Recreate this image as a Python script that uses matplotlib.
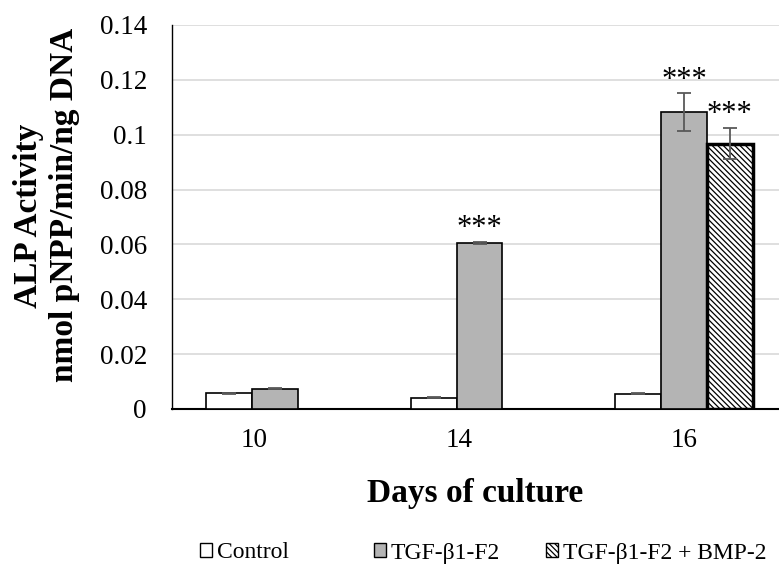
import numpy as np
import matplotlib.pyplot as plt
from matplotlib.patches import Patch
from matplotlib.ticker import FuncFormatter

plt.rcParams['font.family'] = ['Liberation Serif', 'DejaVu Serif']
plt.rcParams['hatch.linewidth'] = 0.9

days = ['10', '14', '16']
control = [0.0058, 0.0041, 0.0055]
control_err = [0.0002, 0.0002, 0.0002]
tgf = [0.0074, 0.0606, 0.1082]
tgf_err = [0.0002, 0.0003, 0.0069]
bmp = [np.nan, np.nan, 0.0967]
bmp_err = [np.nan, np.nan, 0.0057]
stars_tgf = ['', '***', '***']
stars_bmp = ['', '', '***']

x = np.arange(len(days))
w = 0.2235

fig = plt.figure(figsize=(7.79, 5.69), dpi=100)
ax = fig.add_axes([172/779, 1 - 409/569, 607/779, 384/569])

ekw = dict(ecolor='#595959', elinewidth=1.3, capsize=5, capthick=1.3)
ax.bar(x - w, control, w, color='white', edgecolor='black', linewidth=1.2,
       yerr=control_err, error_kw=ekw, zorder=3)
ax.bar(x, tgf, w, color='#b4b4b4', edgecolor='black', linewidth=1.2,
       yerr=tgf_err, error_kw=ekw, zorder=3)
ax.bar(x + w, bmp, w, color='white', edgecolor='black', linewidth=2.5,
       hatch='\\\\\\\\\\\\', yerr=bmp_err, error_kw=ekw, zorder=3)

# significance stars
for i in range(len(days)):
    if stars_tgf[i]:
        ax.text(x[i], tgf[i] + tgf_err[i] + 0.0048, stars_tgf[i],
                ha='center', va='center', fontsize=22)
    if stars_bmp[i]:
        ax.text(x[i] + w, bmp[i] + bmp_err[i] + 0.0048, stars_bmp[i],
                ha='center', va='center', fontsize=22)

ax.set_xlim(-0.5037, 2.4645)
ax.set_ylim(0, 0.14)
ax.set_yticks(np.arange(0, 0.141, 0.02))
ax.yaxis.set_major_formatter(FuncFormatter(lambda v, p: '%g' % round(v, 2)))
ax.set_xticks(x + np.array([-0.1, -0.1, 0.0]))
ax.set_xticklabels(days)
ax.tick_params(axis='both', length=0, labelsize=19.5)
ax.tick_params(axis='y', pad=18)
ax.tick_params(axis='x', pad=14)
ax.grid(axis='y', color='#d9d9d9', linewidth=1.2, zorder=0)
ax.set_axisbelow(True)
for s in ['top', 'right']:
    ax.spines[s].set_visible(False)
ax.spines['left'].set_linewidth(1.0)
ax.spines['bottom'].set_linewidth(1.5)

ax.set_xlabel('Days of culture', fontsize=24, fontweight='bold', labelpad=18)
fig.text(0.036, 0.62, 'ALP Activity', rotation=90, ha='center', va='center',
         fontsize=24, fontweight='bold')
fig.text(0.083, 0.64, 'nmol pNPP/min/ng DNA', rotation=90, ha='center',
         va='center', fontsize=24, fontweight='bold')

handles = [Patch(facecolor='white', edgecolor='black', linewidth=1.0),
           Patch(facecolor='#b4b4b4', edgecolor='black', linewidth=1.0),
           Patch(facecolor='white', edgecolor='black', linewidth=1.0,
                 hatch='\\\\\\\\\\\\')]
labels = ['Control', 'TGF-β1-F2', 'TGF-β1-F2 + BMP-2']
xs = [200, 374, 546]
for h, l, px in zip(handles, labels, xs):
    fig.legend([h], [l], loc='center left', bbox_to_anchor=(px/779, 1 - 553/569),
               frameon=False, fontsize=17, handlelength=0.5, handleheight=0.5,
               handletextpad=0.2, borderpad=0, borderaxespad=0)

fig.savefig('out.png', dpi=100)
